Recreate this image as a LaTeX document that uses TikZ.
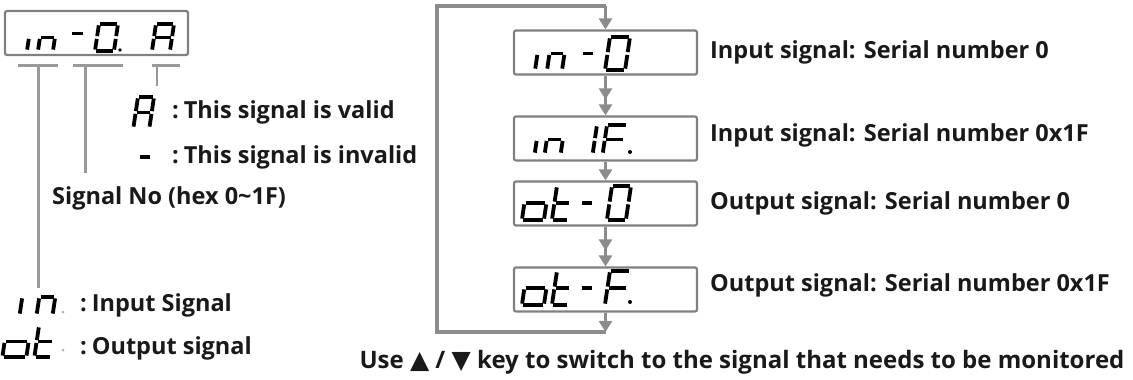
\documentclass[tikz,border=0pt]{standalone}
\usepackage{fontspec}
\setmainfont{Open Sans}
\newfontfamily\symfont{DejaVu Sans}
\usetikzlibrary{arrows.meta,positioning}

\tikzset{
  segline/.style={line width=3.8pt, shorten >=1.4pt, shorten <=1.4pt},
  dispbox/.style={draw=black!50, line width=2.2pt, minimum width=183pt, minimum height=44pt, rounded corners=2pt, inner sep=0pt},
  guide/.style={draw=black!40, line width=3pt},
  loopline/.style={draw=black!45, line width=4pt},
  flow/.style={draw=black!45, line width=3pt, -{Triangle[width=13pt,length=11pt]}},
  flowtwo/.style={draw=black!45, line width=3pt, -{Triangle[width=13pt,length=11pt,sep=5pt]Triangle[width=13pt,length=11pt]}},
  txt/.style={font=\bfseries\fontsize{23.5}{26}\selectfont, anchor=west, inner sep=0pt, text=black!90},
}

% seven segment glyph: x, y (top left), width, height, segments
\newcommand{\segchar}[5]{%
  \begin{scope}[shift={(#1,#2)}, xslant=0.15]
    \coordinate (sa1) at (0,0);      \coordinate (sa2) at (#3,0);
    \coordinate (sb1) at (#3,0);     \coordinate (sb2) at (#3,#4/2);
    \coordinate (sc1) at (#3,#4/2);  \coordinate (sc2) at (#3,#4);
    \coordinate (sd1) at (0,#4);     \coordinate (sd2) at (#3,#4);
    \coordinate (se1) at (0,#4/2);   \coordinate (se2) at (0,#4);
    \coordinate (sf1) at (0,0);      \coordinate (sf2) at (0,#4/2);
    \coordinate (sg1) at (0,#4/2);   \coordinate (sg2) at (#3,#4/2);
    \foreach \s in {#5} {\draw[segline] (s\s1) -- (s\s2);}
  \end{scope}}

\begin{document}
\begin{tikzpicture}[x=1pt,y=-1pt]
  \useasboundingbox (0,0) rectangle (1133,380);

  % left: display and legend
  \node[dispbox] (disp) at (96.5,33) {};
  \segchar{31}{24}{0}{27}{e}
  \segchar{42}{24}{15}{27}{c,e,g}
  \segchar{73}{20}{13}{27}{g}
  \segchar{99}{24}{19}{27}{a,b,c,d,e,f}
  \fill (120,50) circle (1.8pt);
  \segchar{156}{24}{18}{27}{a,b,c,e,f,g}

  \coordinate (brA1) at (18,65);  \coordinate (brA2) at (58,65);
  \coordinate (brB1) at (73,65);  \coordinate (brB2) at (123,65);
  \coordinate (brC1) at (152,65); \coordinate (brC2) at (180,65);
  \draw[guide] (brA1) -- (brA2);
  \draw[guide] (brB1) -- (brB2);
  \draw[guide] (brC1) -- (brC2);
  \coordinate (endA) at (38,288);
  \coordinate (endB) at (85,173);
  \coordinate (endC) at (157,86);
  \draw[guide] (38,65) -- (endA);
  \draw[guide] (85,65) -- (endB);
  \draw[guide, line width=1.6pt] (157,65) -- (endC);

  \segchar{138}{97}{16}{31}{a,b,c,e,f,g}
  \node[txt] (valid) at (172,112) {:\hspace{5pt}This signal is valid};
  \segchar{141}{142}{13}{30}{g}
  \node[txt] (invalid) at (172,157) {:\hspace{5pt}This signal is invalid};
  \node[txt] (signo) at (52,198) {Signal No (hex 0\textasciitilde1F)};

  \segchar{25}{279}{0}{36}{e}
  \segchar{42}{279}{16}{36}{c,e,g}
  \fill[black!30] (63,312) circle (1.5pt);
  \node[txt] (insig) at (80,305) {:\hspace{5pt}Input Signal};
  \segchar{7}{326}{24}{31}{c,d,e,g}
  \segchar{39}{326}{17}{31}{d,e,f,g}
  \fill[black!30] (63,350) circle (1.5pt);
  \node[txt] (outsig) at (80,348) {:\hspace{5pt}Output signal};

  % right: display sequence
  \node[dispbox] (in0)  at (605.5,52.5)  {};
  \node[dispbox] (in1F) at (605.5,138.5) {};
  \node[dispbox] (ot0)  at (605.5,203.5) {};
  \node[dispbox] (otF)  at (605.5,289.5) {};

  \segchar{540}{37}{0}{33}{e}
  \segchar{552}{37}{15}{33}{c,e,g}
  \segchar{584}{37}{13}{33}{g}
  \segchar{610}{37}{20}{33}{a,b,c,d,e,f}

  \segchar{539}{125}{0}{29}{e}
  \segchar{549}{125}{16}{29}{c,e,g}
  \segchar{597}{125}{0}{29}{b,c}
  \segchar{607}{125}{20}{29}{a,e,f,g}
  \fill (630,152) circle (2pt);

  \segchar{527}{186}{22}{34}{c,d,e,g}
  \segchar{557}{186}{16}{34}{d,e,f,g}
  \segchar{583}{186}{13}{34}{g}
  \segchar{612}{186}{19}{34}{a,b,c,d,e,f}

  \segchar{527}{271}{22}{34}{c,d,e,g}
  \segchar{557}{271}{16}{34}{d,e,f,g}
  \segchar{583}{271}{13}{34}{g}
  \segchar{610}{271}{20}{34}{a,e,f,g}
  \fill (630,302) circle (2pt);

  \coordinate (loopTop) at (605.5,6);
  \coordinate (loopTL)  at (437,6);
  \coordinate (loopBL)  at (437,332);
  \coordinate (loopBot) at (605.5,332);
  \draw[loopline] (loopBot) -- (loopBL) -- (loopTL) -- (loopTop);
  \draw[flow] (loopTop) -- (in0.north);
  \draw[flowtwo] (in0) -- (in1F);
  \draw[flow] (in1F) -- (ot0);
  \draw[flowtwo] (ot0) -- (otF);
  \draw[flow] (otF.south) -- (loopBot);

  \node[txt] (in0lbl)  at (710,52)  {Input signal: Serial number 0};
  \node[txt] (in1Flbl) at (710,135) {Input signal: Serial number 0x1F};
  \node[txt] (ot0lbl)  at (710,203) {Output signal: Serial number 0};
  \node[txt] (otFlbl)  at (710,285) {Output signal: Serial number 0x1F};

  \node[txt, anchor=center, font=\bfseries\fontsize{24}{27}\selectfont] (hint) at (742,362)
    {Use {\symfont\fontsize{25}{27}\selectfont ▲} / {\symfont\fontsize{25}{27}\selectfont ▼} key to switch to the signal that needs to be monitored};
\end{tikzpicture}
\end{document}
